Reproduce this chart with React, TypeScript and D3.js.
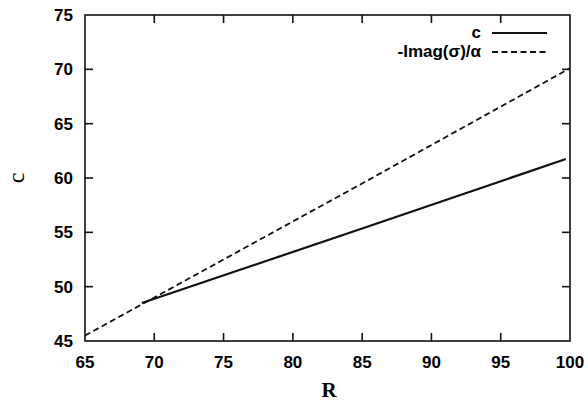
import React, { useEffect, useRef } from 'react';
import * as d3 from 'd3';

// R values and curves
const cR = [69.1, 85, 99.7];
const cValues = [48.5, 55.35, 61.75];
const imagR = [65, 85, 100];
const imagValues = [45.5, 59.5, 70.1];

const xTicks = [65, 70, 75, 80, 85, 90, 95, 100];
const yTicks = [45, 50, 55, 60, 65, 70, 75];
const legendLabels = ['c', '-Imag(\u03c3)/\u03b1'];

const App = () => {
  const chartRef = useRef<SVGSVGElement | null>(null);

  useEffect(() => {
    const width = 588;
    const height = 401;
    const margin = { top: 15, right: 18, bottom: 60, left: 85 };

    const svg = d3.select(chartRef.current);
    svg.selectAll('*').remove();
    svg.attr('width', width).attr('height', height);

    const x = d3.scaleLinear().domain([65, 100]).range([margin.left, width - margin.right]);
    const y = d3.scaleLinear().domain([45, 75]).range([height - margin.bottom, margin.top]);

    const x0 = x(65), x1 = x(100), y0 = y(45), y1 = y(75);
    const tickLen = 8;
    const font = '"Liberation Sans", Arial, sans-serif';
    const labelFont = '"Liberation Serif", "DejaVu Serif", serif';

    // frame
    svg.append('rect')
      .attr('x', x0).attr('y', y1)
      .attr('width', x1 - x0).attr('height', y0 - y1)
      .attr('fill', 'none')
      .attr('stroke', '#111')
      .attr('stroke-width', 1.6);

    const ticks = svg.append('g').attr('stroke', '#111').attr('stroke-width', 1.6);

    xTicks.slice(1, -1).forEach(t => {
      ticks.append('line').attr('x1', x(t)).attr('x2', x(t)).attr('y1', y0).attr('y2', y0 - tickLen);
      ticks.append('line').attr('x1', x(t)).attr('x2', x(t)).attr('y1', y1).attr('y2', y1 + tickLen);
    });
    yTicks.slice(1, -1).forEach(t => {
      ticks.append('line').attr('x1', x0).attr('x2', x0 + tickLen).attr('y1', y(t)).attr('y2', y(t));
      ticks.append('line').attr('x1', x1).attr('x2', x1 - tickLen).attr('y1', y(t)).attr('y2', y(t));
    });

    svg.append('g')
      .selectAll('text')
      .data(xTicks)
      .enter()
      .append('text')
      .attr('x', d => x(d))
      .attr('y', y0 + 27)
      .attr('text-anchor', 'middle')
      .style('font-family', font)
      .style('font-weight', 'bold')
      .style('font-size', '17px')
      .text(d => d);

    svg.append('g')
      .selectAll('text')
      .data(yTicks)
      .enter()
      .append('text')
      .attr('x', x0 - 12)
      .attr('y', d => y(d) + 6)
      .attr('text-anchor', 'end')
      .style('font-family', font)
      .style('font-weight', 'bold')
      .style('font-size', '17px')
      .text(d => d);

    // axis labels
    svg.append('text')
      .attr('x', 329)
      .attr('y', 397)
      .attr('text-anchor', 'middle')
      .style('font-family', labelFont)
      .style('font-weight', 'bold')
      .style('font-size', '21px')
      .text('R');

    svg.append('text')
      .attr('transform', `translate(24,${y(60)}) rotate(-90)`)
      .attr('text-anchor', 'middle')
      .style('font-family', labelFont)
      .style('font-size', '24px')
      .text('c');

    const line = d3.line<[number, number]>()
      .x(d => x(d[0]))
      .y(d => y(d[1]));

    svg.append('path')
      .datum(d3.zip(cR, cValues) as [number, number][])
      .attr('d', line)
      .attr('fill', 'none')
      .attr('stroke', '#111')
      .attr('stroke-width', 2.2);

    svg.append('path')
      .datum(d3.zip(imagR, imagValues) as [number, number][])
      .attr('d', line)
      .attr('fill', 'none')
      .attr('stroke', '#111')
      .attr('stroke-width', 1.8)
      .attr('stroke-dasharray', '6,3.5');

    // legend
    const legend = svg.append('g');
    legendLabels.forEach((label, i) => {
      const ly = 33 + i * 19;
      legend.append('text')
        .attr('x', 481)
        .attr('y', ly + 5)
        .attr('text-anchor', 'end')
        .style('font-family', font)
        .style('font-weight', 'bold')
        .style('font-size', '17px')
        .text(label);
      legend.append('line')
        .attr('x1', 492).attr('x2', 547)
        .attr('y1', ly).attr('y2', ly)
        .attr('stroke', '#111')
        .attr('stroke-width', i === 0 ? 2.2 : 1.8)
        .attr('stroke-dasharray', i === 0 ? null : '6,3.5');
    });
  }, []);

  return (
    <div style={{ position: 'absolute', left: 0, top: 0 }}>
      <svg ref={chartRef}></svg>
    </div>
  );
};

export default App;
